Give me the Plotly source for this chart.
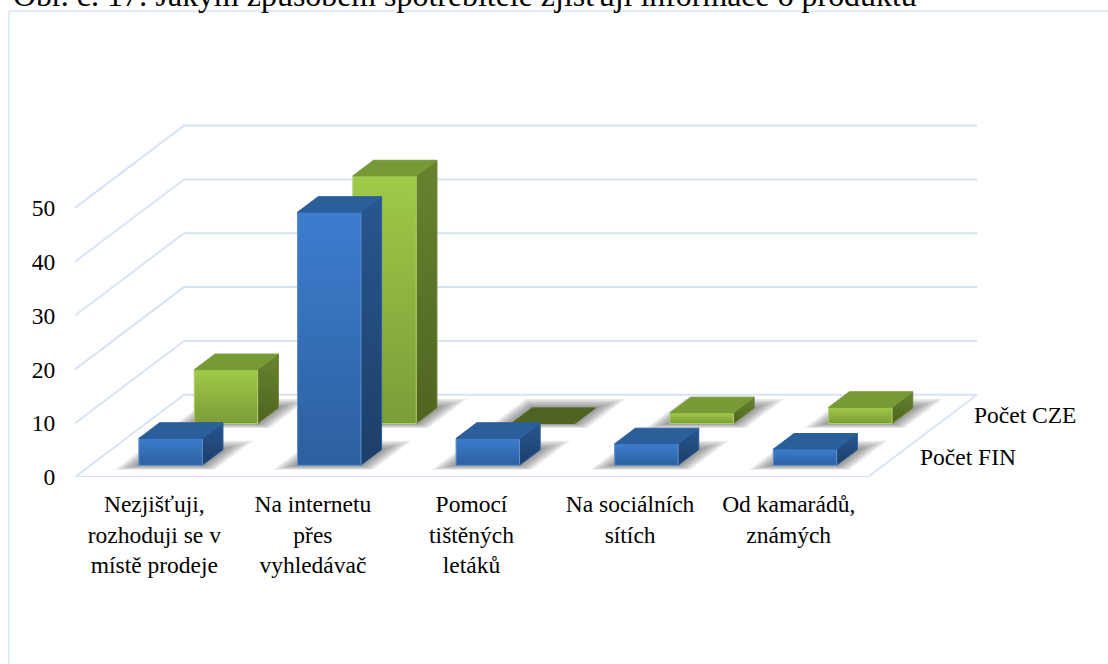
import plotly.graph_objects as go

# --- data ---
categories = ["Nezjišťuji,<br>rozhoduji se v<br>místě prodeje", "Na internetu<br>přes<br>vyhledávač",
              "Pomocí<br>tištěných<br>letáků", "Na sociálních<br>sítích", "Od kamarádů,<br>známých"]
pocet_fin = [5, 47, 5, 4, 3]
pocet_cze = [10, 46, 0, 2, 3]
value_ticks = [0, 10, 20, 30, 40, 50]
title_text = "Obr. č. 17: Jakým způsobem spotřebitelé zjišťují informace o produktu"

# --- oblique projection, expressed in axis units ---
W, H = 1108, 664
LEFT, BOTTOM = 75, 476.7
PX_X, PX_Y = 158.6, 5.38          # pixels per category / per value unit
DEPTH_X = 109 / PX_X              # x shift of the full chart depth
DEPTH_Y = 82.2 / PX_Y             # y shift of the full chart depth
BAR_W = 63.4 / PX_X
BAR_D = 0.19
FIN_D, CZE_D = 0.142, 0.65
GRID = "#D8E4F5"
FONT = "Liberation Serif"
FS = 23.5
INK = "#000000"


def proj(x, v, d):
    return x + d * DEPTH_X, v + d * DEPTH_Y


def poly(pts, **kw):
    xs = [p[0] for p in pts] + [pts[0][0]]
    ys = [p[1] for p in pts] + [pts[0][1]]
    return go.Scatter(x=xs, y=ys, mode="lines", fill="toself", showlegend=False, hoverinfo="skip", **kw)


def shadow_traces(center, d0):
    out = []
    x0, x1 = center - BAR_W / 2, center + BAR_W / 2
    for e in (18, 15, 12, 9, 6, 3):
        ex = e / PX_X
        dd = e / 82.2 * 0.5
        pts = [proj(x0 - ex, 0, d0 - dd * 0.5), proj(x1 + ex, 0, d0 - dd * 0.5),
               proj(x1 + ex, 0, d0 + BAR_D + dd), proj(x0 - ex, 0, d0 + BAR_D + dd)]
        out.append(poly(pts, fillcolor="rgba(60,60,60,0.11)", line=dict(width=0)))
    return out


def bar_traces(center, value, d0, c):
    x0, x1 = center - BAR_W / 2, center + BAR_W / 2
    d1 = d0 + BAR_D
    top_col = c["top"] if value > 0 else c["flat"]
    out = []
    if value > 0:
        out.append(poly([proj(x1, 0, d0), proj(x1, 0, d1), proj(x1, value, d1), proj(x1, value, d0)],
                        fillgradient=dict(type="vertical", colorscale=[[0, c["side_lo"]], [1, c["side_hi"]]]),
                        line=dict(width=1, color=c["side_edge"])))
        out.append(poly([proj(x0, 0, d0), proj(x1, 0, d0), proj(x1, value, d0), proj(x0, value, d0)],
                        fillgradient=dict(type="vertical", colorscale=[[0, c["lo"]], [1, c["hi"]]]),
                        line=dict(width=1, color=c["edge"])))
    out.append(poly([proj(x0, value, d0), proj(x1, value, d0), proj(x1, value, d1), proj(x0, value, d1)],
                    fillcolor=top_col, line=dict(width=1, color=top_col)))
    return out


FIN_C = dict(hi="#3C7DCF", lo="#2D609F", top="#2B5F9B", flat="#2B5F9B",
             side_hi="#28568F", side_lo="#1D3F69", edge="#5F8FCC", side_edge="#2B5F9B")
CZE_C = dict(hi="#9FCA48", lo="#7C9C38", top="#769A35", flat="#4F6420",
             side_hi="#67832F", side_lo="#4F6420", edge="#AFCF70", side_edge="#67832F")

fig = go.Figure()

# walls and floor
gx, gy = [], []
for v in value_ticks:
    p0 = proj(0, v, 0)
    p1 = proj(0, v, 1)
    p2 = proj(len(categories), v, 1)
    gx += [p0[0], p1[0], p2[0], None]
    gy += [p0[1], p1[1], p2[1], None]
f = [proj(0, 0, 0), proj(len(categories), 0, 0), proj(len(categories), 0, 1)]
gx += [p[0] for p in f] + [None]
gy += [p[1] for p in f] + [None]
fig.add_trace(go.Scatter(x=gx, y=gy, mode="lines", line=dict(color=GRID, width=2),
                         showlegend=False, hoverinfo="skip", cliponaxis=False))

# back row first, then the front row
for values, d0, colours in ((pocet_cze, CZE_D, CZE_C), (pocet_fin, FIN_D, FIN_C)):
    for i, v in enumerate(values):
        for tr in shadow_traces(i + 0.505, d0):
            fig.add_trace(tr)
    for i, v in enumerate(values):
        for tr in bar_traces(i + 0.505, v, d0, colours):
            fig.add_trace(tr)

fig.update_layout(
    width=W, height=H, margin=dict(l=LEFT, r=0, t=0, b=H - BOTTOM, autoexpand=False),
    paper_bgcolor="white", plot_bgcolor="white", showlegend=False,
    font=dict(family=FONT, size=FS, color=INK),
    xaxis=dict(range=[0, (W - LEFT) / PX_X], tickmode="array", tickvals=[i + 0.5 for i in range(len(categories))],
               ticktext=categories, tickangle=0, ticks="outside", ticklen=6, tickcolor="rgba(0,0,0,0)",
               showgrid=False, zeroline=False, showline=False, tickfont=dict(family=FONT, size=FS, color=INK)),
    yaxis=dict(range=[0, BOTTOM / PX_Y], tickmode="array", tickvals=value_ticks, ticktext=[str(v) for v in value_ticks],
               ticks="outside", ticklen=14, tickcolor="rgba(0,0,0,0)",
               showgrid=False, zeroline=False, showline=False, tickfont=dict(family=FONT, size=FS, color=INK)),
    shapes=[
        dict(type="line", xref="paper", yref="paper", x0=(9 - LEFT) / (W - LEFT), x1=(9 - LEFT) / (W - LEFT),
             y0=(BOTTOM - 11) / BOTTOM, y1=(BOTTOM - H) / BOTTOM, line=dict(color=GRID, width=1.5), layer="below"),
        dict(type="line", xref="paper", yref="paper", x0=(9 - LEFT) / (W - LEFT), x1=1,
             y0=(BOTTOM - 11) / BOTTOM, y1=(BOTTOM - 11) / BOTTOM, line=dict(color=GRID, width=1.5), layer="below"),
    ],
    annotations=[
        dict(text=title_text, xref="paper", yref="paper", x=(11 - LEFT) / (W - LEFT), y=1, yshift=5,
             xanchor="left", yanchor="middle", showarrow=False, font=dict(family=FONT, size=31.9, color=INK)),
        dict(text="Počet CZE", xref="x", yref="y", x=proj(len(categories), 0, CZE_D + 0.1)[0],
             y=proj(0, 0, CZE_D + 0.1)[1], xshift=22, xanchor="left", yanchor="middle", showarrow=False),
        dict(text="Počet FIN", xref="x", yref="y", x=proj(len(categories), 0, FIN_D + 0.1)[0],
             y=proj(0, 0, FIN_D + 0.1)[1], xshift=24, xanchor="left", yanchor="middle", showarrow=False),
    ],
)

fig.write_html("out.html", post_script="document.body.style.margin='0';document.body.style.overflow='hidden';",
               config=dict(displayModeBar=False))
